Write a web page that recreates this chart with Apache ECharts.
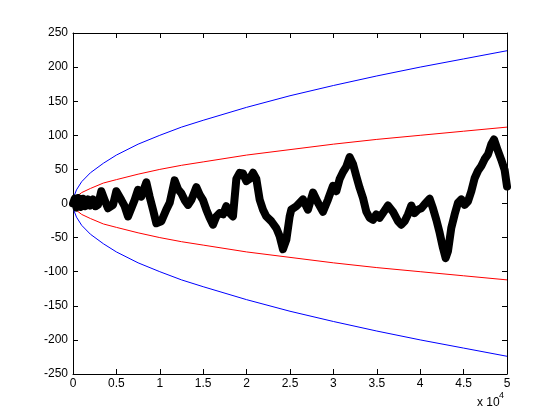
<!DOCTYPE html>
<html>
<head>
<meta charset="utf-8">
<script src="https://cdn.jsdelivr.net/npm/echarts@6/dist/echarts.min.js"></script>
<style>
  html, body { margin: 0; padding: 0; background: #fff; }
  #chart { width: 560px; height: 420px; }
</style>
</head>
<body>
<div id="chart"></div>
<script>
// step index and position of the random walk
const walkN = [
  0, 200, 400, 600, 900, 1150, 1400, 1730, 2000, 2300, 2600, 2880,
  3260, 3650, 4030, 4610, 4990, 5570, 5950, 6340, 6720, 7100, 7490, 7870,
  8450, 8830, 9220, 9600, 10180, 10750, 11140, 11710, 12100, 12480, 12860, 13250,
  13630, 14210, 14590, 14980, 15360, 15740, 16130, 16510, 16900, 17280, 17660, 18050,
  18430, 18820, 19200, 19580, 19970, 20350, 20740, 21120, 21500, 21890, 22270, 22850,
  23420, 23810, 24190, 24580, 24960, 25150, 25730, 26500, 27070, 27650, 28220, 28800,
  29380, 29950, 30340, 30720, 31100, 31490, 31870, 32260, 32640, 33020, 33410, 33790,
  34180, 34560, 34940, 35330, 35710, 36290, 36860, 37440, 37820, 38210, 38590, 38980,
  39360, 39740, 40130, 40510, 41090, 41470, 41860, 42240, 42620, 42930, 43200, 43580,
  43970, 44350, 44740, 45120, 45500, 45890, 46270, 46660, 47040, 47420, 47810, 48190,
  48500, 48880, 49340, 49730, 50000,
]
const walkV = [
  0, 7, -6, 8, -5, 7, -4, 6, -3, 6, -4, -2,
  18, 5, -7, -2, 18, 5, -4, -19, -7, 5, 20, 10,
  31, 10, -9, -29, -26, -9, 1, 34, 21, 15, 5, -2,
  5, 24, 13, 5, -9, -21, -31, -19, -14, -16, -4, -14,
  -19, 36, 45, 44, 33, 36, 45, 36, 6, -9, -19, -26,
  -36, -48, -67, -53, -19, -9, -4, 6, -9, 16, 1, -12,
  6, 26, 18, 36, 46, 54, 68, 58, 40, 23, 8, -12,
  -21, -24, -16, -21, -14, -3, -12, -26, -31, -26, -16, -3,
  -14, -9, -7, -1, 7, -7, -24, -43, -65, -80, -70, -36,
  -16, 1, 6, -2, 3, 18, 37, 48, 55, 65, 72, 87,
  94, 80, 64, 49, 25,
]

// envelope curves
const envN = [0, 100, 400, 1000, 2000, 3500, 5000, 7500, 10000, 12500, 15000, 20000, 25000, 30000, 35000, 40000, 45000, 50000]
const outerV = [0, 10, 20, 32, 45, 59, 71, 87, 100, 112, 122, 141, 158, 173, 187, 200, 212, 224]
const innerV = [0, 5, 10, 16, 22, 30, 35, 43, 50, 56, 61, 71, 79, 87, 94, 100, 106, 112]

const font = 'Liberation Sans, Arial, sans-serif'

function pairs(xs, ys, sign) {
  return xs.map((x, i) => [x, sign * ys[i]])
}

function envLine(ys, sign, color) {
  return {
    type: 'line',
    data: pairs(envN, ys, sign),
    showSymbol: false,
    silent: true,
    lineStyle: { color, width: 1 },
  }
}

const chart = echarts.init(document.getElementById('chart'), null, { renderer: 'canvas' })

const tickCommon = {
  axisLine: { onZero: false, lineStyle: { color: '#000', width: 1 } },
  axisTick: { inside: true, length: 5, lineStyle: { color: '#000' } },
  splitLine: { show: false },
}

chart.setOption({
  animation: false,
  backgroundColor: '#fff',
  grid: { left: 73, right: 53, top: 33, bottom: 46 },
  xAxis: [
    {
      type: 'value',
      min: 0,
      max: 50000,
      interval: 5000,
      ...tickCommon,
      axisLabel: {
        color: '#000',
        fontFamily: font,
        fontSize: 12,
        margin: 4,
        formatter: (v) => String(v / 10000),
      },
    },
    {
      type: 'value',
      position: 'top',
      min: 0,
      max: 50000,
      interval: 5000,
      ...tickCommon,
      axisLabel: { show: false },
    },
  ],
  yAxis: [
    {
      type: 'value',
      min: -250,
      max: 250,
      interval: 50,
      ...tickCommon,
      axisLabel: { color: '#000', fontFamily: font, fontSize: 12, margin: 5 },
    },
    {
      type: 'value',
      position: 'right',
      min: -250,
      max: 250,
      interval: 50,
      ...tickCommon,
      axisLabel: { show: false },
    },
  ],
  graphic: [
    { type: 'text', left: 477, top: 397, style: { text: 'x 10', font: '12px ' + font, fill: '#000' } },
    { type: 'text', left: 499, top: 391, style: { text: '4', font: '9px ' + font, fill: '#000' } },
  ],
  series: [
    envLine(outerV, 1, '#0000ff'),
    envLine(outerV, -1, '#0000ff'),
    envLine(innerV, 1, '#ff0000'),
    envLine(innerV, -1, '#ff0000'),
    {
      type: 'line',
      data: pairs(walkN, walkV, 1),
      showSymbol: false,
      silent: true,
      lineStyle: { color: '#000', width: 8, join: 'round', cap: 'round' },
    },
  ],
})
</script>
</body>
</html>
